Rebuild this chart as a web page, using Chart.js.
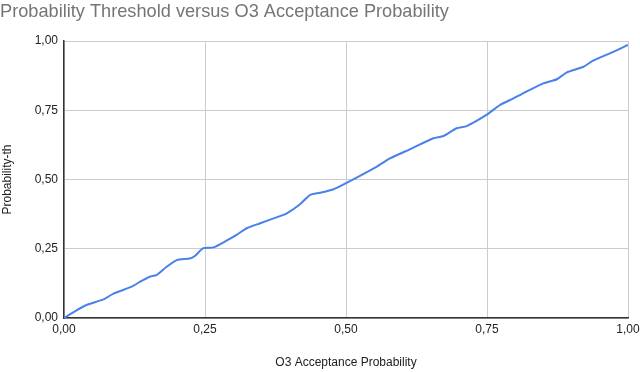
<!DOCTYPE html>
<html>
<head>
<meta charset="utf-8">
<script src="https://cdn.jsdelivr.net/npm/chart.js@4/dist/chart.umd.min.js"></script>
<style>
  html, body { margin: 0; padding: 0; background: #fff; }
  #wrap { width: 640px; height: 372px; }
</style>
</head>
<body>
<div id="wrap"><canvas id="c" width="640" height="372"></canvas></div>
<script>
const chartTitle = "Probability Threshold versus O3 Acceptance Probability";
const xAxisTitle = "O3 Acceptance Probability";
const yAxisTitle = "Probability-th";
const tickValues = [0, 0.25, 0.5, 0.75, 1];

const acceptance = [0, 0.02, 0.04, 0.07, 0.087, 0.12, 0.135, 0.152, 0.164, 0.182, 0.2, 0.223, 0.232, 0.247, 0.265, 0.288, 0.306, 0.324, 0.348, 0.383, 0.395, 0.418, 0.436, 0.454, 0.478, 0.501, 0.554, 0.578, 0.613, 0.655, 0.673, 0.696, 0.714, 0.749, 0.773, 0.797, 0.814, 0.85, 0.874, 0.891, 0.921, 0.938, 0.974, 1.0];
const threshold  = [0, 0.025, 0.047, 0.067, 0.087, 0.113, 0.131, 0.149, 0.155, 0.185, 0.209, 0.215, 0.224, 0.252, 0.255, 0.279, 0.3, 0.324, 0.342, 0.368, 0.378, 0.41, 0.444, 0.452, 0.465, 0.488, 0.546, 0.576, 0.609, 0.649, 0.657, 0.685, 0.693, 0.733, 0.769, 0.793, 0.811, 0.847, 0.862, 0.886, 0.907, 0.929, 0.961, 0.986];

const points = acceptance.map((x, i) => ({ x: x, y: threshold[i] }));
const fmt = v => Number(v).toFixed(2).replace('.', ',');
const FONT = "'Liberation Sans', Arial, sans-serif";

new Chart(document.getElementById('c'), {
  type: 'scatter',
  data: {
    datasets: [{
      data: points,
      showLine: true,
      borderColor: '#4a80ea',
      backgroundColor: '#4a80ea',
      borderWidth: 2,
      pointRadius: 0,
      tension: 0.2
    }]
  },
  options: {
    responsive: false,
    animation: false,
    layout: { padding: { left: 0, right: 0, top: 0, bottom: 0 } },
    plugins: {
      legend: { display: false },
      tooltip: { enabled: false },
      title: {
        display: true,
        text: chartTitle,
        align: 'start',
        color: '#757575',
        font: { family: FONT, size: 18.2, weight: 'normal' },
        padding: { top: 1.5, bottom: 17.66 }
      }
    },
    scales: {
      x: {
        type: 'linear',
        min: 0, max: 1,
        afterBuildTicks: s => { s.ticks = tickValues.map(v => ({ value: v })); },
        afterFit: s => { s.height = 54; s.paddingLeft = 0; s.paddingRight = 12; },
        ticks: {
          color: '#222',
          font: { family: FONT, size: 12 },
          padding: 4,
          maxRotation: 0,
          callback: v => fmt(v)
        },
        grid: { color: '#cccccc', lineWidth: 1, drawTicks: false },
        border: { color: '#333', width: 1.5 },
        title: {
          display: true,
          text: xAxisTitle,
          color: '#222',
          font: { family: FONT, size: 12 },
          padding: { top: 0, bottom: 2 }
        }
      },
      y: {
        type: 'linear',
        min: 0, max: 1,
        afterBuildTicks: s => { s.ticks = tickValues.map(v => ({ value: v })); },
        afterFit: s => { s.width = 64; s.paddingTop = 0; s.paddingBottom = 0; },
        ticks: {
          color: '#222',
          font: { family: FONT, size: 12 },
          padding: 6,
          callback: v => fmt(v)
        },
        grid: { color: '#cccccc', lineWidth: 1, drawTicks: false },
        border: { color: '#333', width: 1.5 },
        title: {
          display: true,
          text: yAxisTitle,
          color: '#222',
          font: { family: FONT, size: 12 },
          padding: { top: 0, bottom: 0 }
        }
      }
    }
  }
});
</script>
</body>
</html>
